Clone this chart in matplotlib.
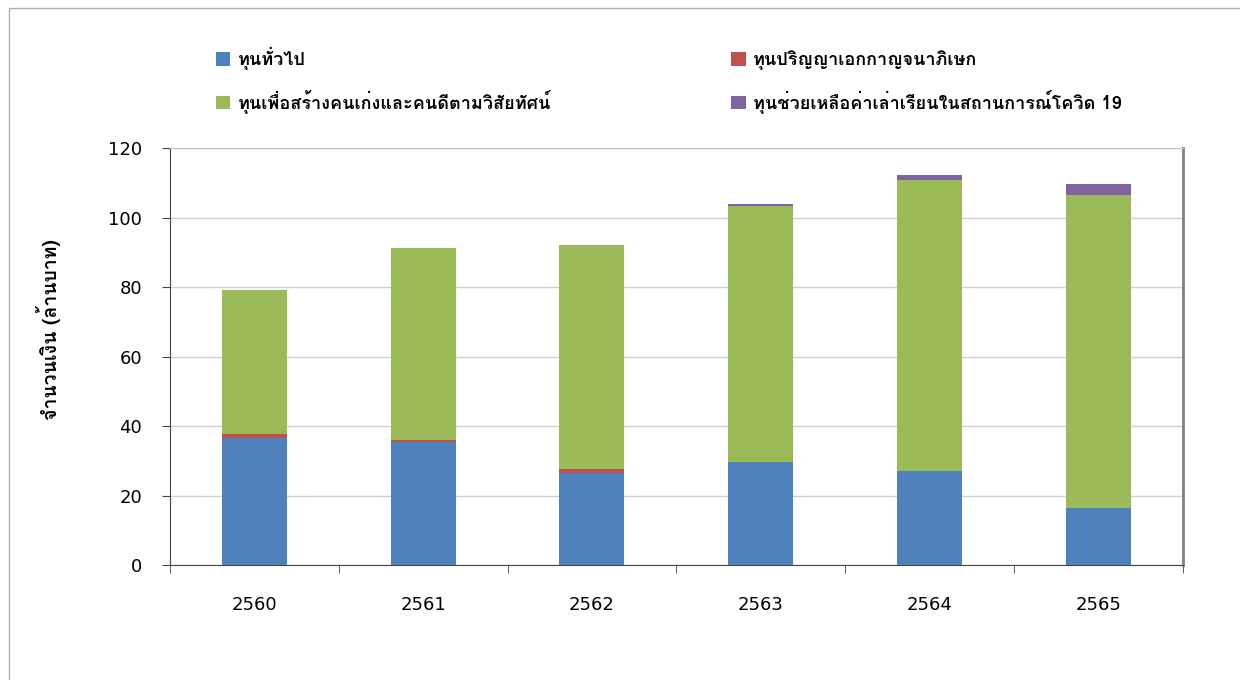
import matplotlib
matplotlib.use('Agg')
import matplotlib.pyplot as plt
import numpy as np

years = ['2560', '2561', '2562', '2563', '2564', '2565']
general = [36.6, 35.4, 26.4, 29.6, 27.0, 16.4]
phd = [1.2, 0.7, 1.2, 0.1, 0.0, 0.0]
talent = [41.3, 55.1, 64.5, 73.7, 83.9, 90.2]
covid = [0.0, 0.0, 0.0, 0.6, 1.5, 3.0]

series_names = ['ทุนทั่วไป', 'ทุนปริญญาเอกกาญจนาภิเษก',
                'ทุนเพื่อสร้างคนเก่งและคนดีตามวิสัยทัศน์',
                'ทุนช่วยเหลือค่าเล่าเรียนในสถานการณ์โควิด 19']
colors = ['#4f81bd', '#c0504d', '#9bbb59', '#8064a2']

plt.rcParams['font.family'] = ['Loma', 'DejaVu Sans']

fig = plt.figure(figsize=(12.4, 6.8), dpi=100)
ax = fig.add_axes([0.137, 0.169, 0.817, 0.613])

x = np.arange(len(years))
bottom = np.zeros(len(years))
handles = []
for name, vals, c in zip(series_names, [general, phd, talent, covid], colors):
    h = ax.bar(x, vals, 0.385, bottom=bottom, color=c, label=name, zorder=3)
    handles.append(h)
    bottom += np.array(vals)

ax.set_xlim(-0.5, len(years) - 0.5)
ax.set_ylim(0, 120)
ax.set_yticks(range(0, 121, 20))
ax.set_xticks(x)
ax.set_xticklabels(years)
ax.set_xticks(np.arange(-0.5, len(years), 1), minor=True)
ax.tick_params(axis='x', which='major', length=0, pad=22)
ax.tick_params(axis='x', which='minor', length=6, color='#444444')
ax.tick_params(axis='y', length=6, color='#444444', pad=14)
for lab in ax.get_xticklabels() + ax.get_yticklabels():
    lab.set_family('DejaVu Sans')
    lab.set_fontsize(13)
ax.grid(axis='y', color='#d0d0d0', linewidth=1, zorder=0)
ax.spines['top'].set_color('#bfbfbf')
ax.spines['right'].set_color('#808080')
ax.spines['right'].set_linewidth(2)
ax.spines['left'].set_color('#444444')
ax.spines['bottom'].set_color('#444444')

ax.set_ylabel('จำนวนเงิน (ล้านบาท)', fontsize=14, fontweight='bold')
ax.yaxis.set_label_coords(-0.107, 0.564)

# row-major order like the original legend
order = [0, 2, 1, 3]
fig.legend([handles[i] for i in order], [series_names[i] for i in order],
           loc='upper left', bbox_to_anchor=(0.161, 0.955), ncol=2, frameon=False,
           handlelength=0.8, handleheight=0.8, handletextpad=0.4, columnspacing=10,
           labelspacing=1.1, prop={'size': 13, 'weight': 'bold'})

fig.patches.append(plt.Rectangle((0.007, -0.01), 1.0, 0.998, transform=fig.transFigure,
                                 fill=False, edgecolor='#b0b0b0', linewidth=1))

fig.savefig('out.png', dpi=100)
